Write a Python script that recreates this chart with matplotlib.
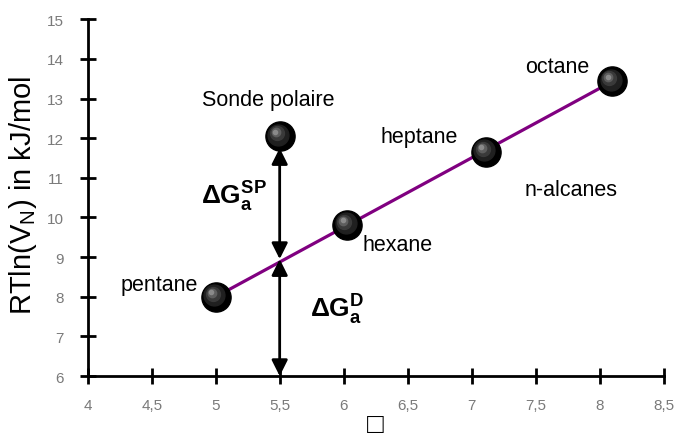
import numpy as np
import matplotlib.pyplot as plt
import matplotlib.transforms as mtransforms

plt.rcParams['font.family'] = ['Liberation Sans', 'DejaVu Sans']
plt.rcParams['mathtext.fontset'] = 'custom'
plt.rcParams['mathtext.rm'] = 'Liberation Sans'
plt.rcParams['mathtext.it'] = 'Liberation Sans'
plt.rcParams['mathtext.bf'] = 'Liberation Sans:bold'

# n-alkanes and the polar probe
names = ['pentane', 'hexane', 'heptane', 'octane']
x_alc = [5.0, 6.03, 7.11, 8.10]
y_alc = [8.0, 9.82, 11.66, 13.43]
x_probe = 5.5
y_probe = 12.05
y_ref = 8.95   # alkane line value at the probe abscissa

xticks = [4, 4.5, 5, 5.5, 6, 6.5, 7, 7.5, 8, 8.5]
xticklabels = ['4', '4,5', '5', '5,5', '6', '6,5', '7', '7,5', '8', '8,5']
yticks = [6, 7, 8, 9, 10, 11, 12, 13, 14, 15]

fig = plt.figure(figsize=(6.75, 4.39), dpi=100)
ax = fig.add_axes([0.130, 0.141, 0.853, 0.813])

ax.set_xlim(4, 8.5)
ax.set_ylim(6, 15)

# alkane straight line
ax.plot([x_alc[0], x_alc[-1]], [y_alc[0], y_alc[-1]], color='#800080',
        linewidth=2.3, zorder=2, solid_capstyle='butt')

# arrows for the specific and dispersive parts
arrow = dict(arrowstyle='<|-|>', color='black', lw=2.0,
             mutation_scale=24, shrinkA=0, shrinkB=0)
ax.annotate('', xy=(x_probe, y_probe - 0.3), xytext=(x_probe, y_ref),
            arrowprops=arrow, zorder=4)
ax.annotate('', xy=(x_probe, y_ref), xytext=(x_probe, 6.0),
            arrowprops=arrow, zorder=4)


def sphere(x, y):
    # black ball with a soft highlight up-left
    ax.plot(x, y, 'o', ms=21, color='black', zorder=5)
    shades = [('#202020', 15, -1.5), ('#3a3a3a', 10, -3.0),
              ('#5e5e5e', 6, -4.0), ('#8a8a8a', 3, -4.5)]
    for c, s, d in shades:
        tr = mtransforms.offset_copy(ax.transData, fig=fig, x=d, y=-d,
                                     units='dots')
        ax.plot(x, y, 'o', ms=s, color=c, transform=tr, zorder=6)


for xx, yy in zip(x_alc, y_alc):
    sphere(xx, yy)
sphere(x_probe, y_probe)

# labels
fs = 15.5
ax.text(4.56, 8.32, 'pentane', fontsize=fs, ha='center', va='center')
ax.text(6.42, 9.31, 'hexane', fontsize=fs, ha='center', va='center')
ax.text(6.59, 12.05, 'heptane', fontsize=fs, ha='center', va='center')
ax.text(7.67, 13.8, 'octane', fontsize=fs, ha='center', va='center')
ax.text(7.78, 10.7, 'n-alcanes', fontsize=fs, ha='center', va='center')
ax.text(5.41, 12.98, 'Sonde polaire', fontsize=fs, ha='center', va='center')
ax.text(5.14, 10.55, r'$\mathbf{\Delta G_a^{SP}}$', fontsize=19,
        ha='center', va='center')
ax.text(5.95, 7.7, r'$\mathbf{\Delta G_a^{D}}$', fontsize=19,
        ha='center', va='center')

# axes styling
for side in ['top', 'right']:
    ax.spines[side].set_visible(False)
for side in ['left', 'bottom']:
    ax.spines[side].set_linewidth(2)
ax.set_xticks(xticks)
ax.set_xticklabels(xticklabels)
ax.set_yticks(yticks)
ax.tick_params(direction='inout', length=11, width=2, labelsize=11,
               labelcolor='#7a7a7a')
ax.tick_params(axis='x', pad=10)
ax.tick_params(axis='y', pad=12)

ax.set_ylabel(r'RTln(V$_{\mathrm{N}}$) in kJ/mol', fontsize=21)
ax.yaxis.set_label_coords(-0.085, 0.51)
ax.set_xlabel('□', fontsize=20, labelpad=0, fontweight='bold')

fig.savefig('out.png', dpi=100)
